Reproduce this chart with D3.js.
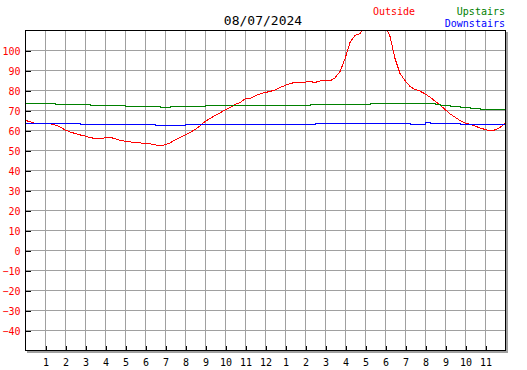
<!DOCTYPE html>
<html><head><meta charset="utf-8">
<script src="https://cdn.jsdelivr.net/npm/d3@7"></script>
<style>body{margin:0;background:#fff}svg{display:block}</style>
</head><body>
<svg id="c" width="527" height="370"></svg>
<script>
const title = "08/07/2024";
const seriesNames = ["Outside", "Upstairs", "Downstairs"];
const seriesColors = ["#ff0000", "#008000", "#0000ff"];
const xTickHours = [1,2,3,4,5,6,7,8,9,10,11,12,13,14,15,16,17,18,19,20,21,22,23];
const xTickLabels = ["1","2","3","4","5","6","7","8","9","10","11","12","1","2","3","4","5","6","7","8","9","10","11"];
const yTicks = [-40,-30,-20,-10,0,10,20,30,40,50,60,70,80,90,100];
// samples every 15 minutes, 0:00 .. 24:00
const hours = d3.range(0, 24.001, 0.25);
const outside = [65,64.5,63.5,63.3,63.3,63.3,62.8,61.8,60.3,59.3,58.5,57.8,57.2,56.5,56,56,56.3,56.5,56,55,
 54.7,54.3,54,53.8,53.5,53.3,52.8,52.5,52.8,53.8,55.3,56.5,57.8,59,60.5,62.3,64.5,66,67.5,68.8,
 70.3,71.5,73,74,75.8,76,77.3,78.3,79,79.5,80.3,81.5,82.5,83.5,84,83.8,84.2,84.5,84,84.8,
 85,84.8,86.3,89.5,95.8,104,107.5,108.5,112,114,109.8,114,113,107,96,88.5,85,82,80.5,79.7,
 78.3,76.7,74.7,72.8,70.5,68.3,66.7,65,63.8,63,62.2,61.3,60.5,59.8,60.3,61.5,63.5];
const upstairs = [73.3,73.3,73.3,73.3,73.3,73.3,
 72.8,72.8,72.8,72.8,72.8,72.8,72.8,
 72.3,72.3,72.3,72.3,72.3,72.3,72.3,
 71.8,71.8,71.8,71.8,71.8,71.8,71.8,
 71.3,71.3,
 71.8,71.8,71.8,71.8,71.8,71.8,71.8,
 72.3,72.3,72.3,72.3,72.3,72.3,72.3,72.3,72.3,72.3,72.3,72.3,72.3,72.3,72.3,72.3,72.3,72.3,72.3,72.3,72.3,
 72.8,72.8,72.8,72.8,72.8,72.8,72.8,72.8,72.8,72.8,72.8,72.8,
 73.3,73.3,73.3,73.3,73.3,73.3,73.3,73.3,73.3,73.3,73.3,73.3,73.3,
 72.8,72.7,72.3,72.0,72.0,71.5,71.3,71.0,70.8,70.7,
 70.3,70.3,70.3,70.3,70.3];
const downstairs = [63.3,63.3,63.3,63.3,63.3,63.3,63.6,63.3,63.3,63.3,63.3,
 62.8,62.8,62.8,62.8,62.8,62.8,62.8,62.8,62.8,62.8,62.8,62.8,62.8,62.8,62.8,
 62.3,62.3,62.3,62.3,62.3,62.3,
 62.8,62.8,62.8,62.8,62.8,62.8,62.8,62.8,62.8,62.8,62.8,62.8,62.8,62.8,63.2,62.8,62.8,63.1,62.8,62.8,62.8,62.8,62.8,62.8,62.8,62.8,
 63.3,63.3,63.3,63.3,63.3,63.3,63.3,63.3,63.3,63.3,63.3,63.3,63.3,63.3,63.3,63.3,63.3,63.3,63.3,
 62.9,63.1,62.9,
 63.8,
 63.6,63.6,63.6,63.6,63.6,63.6,
 63.2,63.2,63.2,63.2,63.2,63.2,63.2,63.2,63.2,63.2];

const svg = d3.select("#c");
const L = 25, R = 505, T = 30, B = 350;
const x = d3.scaleLinear().domain([0, 24]).range([L, R]);
const y = d3.scaleLinear().domain([-50, 110]).range([B, T]);
const font = "'DejaVu Sans Mono', monospace";

// shadow
svg.append("rect").attr("x", L + 2).attr("y", T + 2).attr("width", R - L + 1).attr("height", B - T + 1)
  .attr("fill", "#a0a0a0");
svg.append("rect").attr("x", L).attr("y", T).attr("width", R - L).attr("height", B - T).attr("fill", "#fff");

// grid
const g = svg.append("g").attr("shape-rendering", "crispEdges");
g.selectAll(".vg").data(xTickHours).join("line")
  .attr("x1", d => x(d) + 0.5).attr("x2", d => x(d) + 0.5).attr("y1", T).attr("y2", B)
  .attr("stroke", "#a0a0a0").attr("stroke-width", 1);
g.selectAll(".hg").data(yTicks).join("line")
  .attr("y1", d => y(d) + 0.5).attr("y2", d => y(d) + 0.5).attr("x1", L).attr("x2", R)
  .attr("stroke", "#a0a0a0").attr("stroke-width", 1);

// series
const clip = svg.append("clipPath").attr("id", "pc").append("rect")
  .attr("x", L).attr("y", T).attr("width", R - L).attr("height", B - T);
const data = [outside, upstairs, downstairs];
data.forEach((vals, i) => {
  const line = d3.line().x((d, j) => x(hours[j])).y(d => y(d) + 0.5)
    .curve(i === 0 ? d3.curveLinear : d3.curveStepAfter);
  svg.append("path").datum(vals).attr("d", line).attr("fill", "none")
    .attr("stroke", seriesColors[i]).attr("stroke-width", 1)
    .attr("clip-path", "url(#pc)").attr("shape-rendering", "crispEdges");
});

// border
const bd = svg.append("g").attr("shape-rendering", "crispEdges");
bd.append("rect").attr("x", L + 0.5).attr("y", T + 0.5).attr("width", R - L).attr("height", B - T)
  .attr("fill", "none").attr("stroke", "#000").attr("stroke-width", 1);

// axes
const yAxis = d3.axisLeft(y).tickValues(yTicks).tickSize(-5).tickPadding(10).tickFormat(d3.format("d"));
const ya = svg.append("g").attr("transform", `translate(${L + 0.5},0.5)`).call(yAxis);
ya.select(".domain").remove();
ya.selectAll(".tick line").attr("stroke", "#000").attr("shape-rendering", "crispEdges");
ya.selectAll(".tick text").attr("fill", "#ff0000").attr("font-family", font).attr("font-size", 10)
  .attr("x", -5).attr("dy", "0.35em");

const xAxis = d3.axisBottom(x).tickValues(xTickHours).tickSize(-5).tickPadding(8)
  .tickFormat((d, i) => xTickLabels[i]);
const xa = svg.append("g").attr("transform", `translate(0.5,${B + 0.5})`).call(xAxis);
xa.select(".domain").remove();
xa.selectAll(".tick line").attr("stroke", "#000").attr("shape-rendering", "crispEdges");
xa.selectAll(".tick text").attr("fill", "#000").attr("font-family", font).attr("font-size", 10)
  .attr("y", 15).attr("dy", 0);

// title & legend
svg.append("text").attr("x", 263).attr("y", 25).attr("text-anchor", "middle")
  .attr("font-family", font).attr("font-size", 13).attr("fill", "#000").text(title);
svg.append("text").attr("x", 373).attr("y", 15).attr("font-family", font).attr("font-size", 10)
  .attr("fill", seriesColors[0]).text(seriesNames[0]);
svg.append("text").attr("x", 505).attr("y", 15).attr("text-anchor", "end").attr("font-family", font)
  .attr("font-size", 10).attr("fill", seriesColors[1]).text(seriesNames[1]);
svg.append("text").attr("x", 505).attr("y", 27).attr("text-anchor", "end").attr("font-family", font)
  .attr("font-size", 10).attr("fill", seriesColors[2]).text(seriesNames[2]);
</script>
</body></html>
